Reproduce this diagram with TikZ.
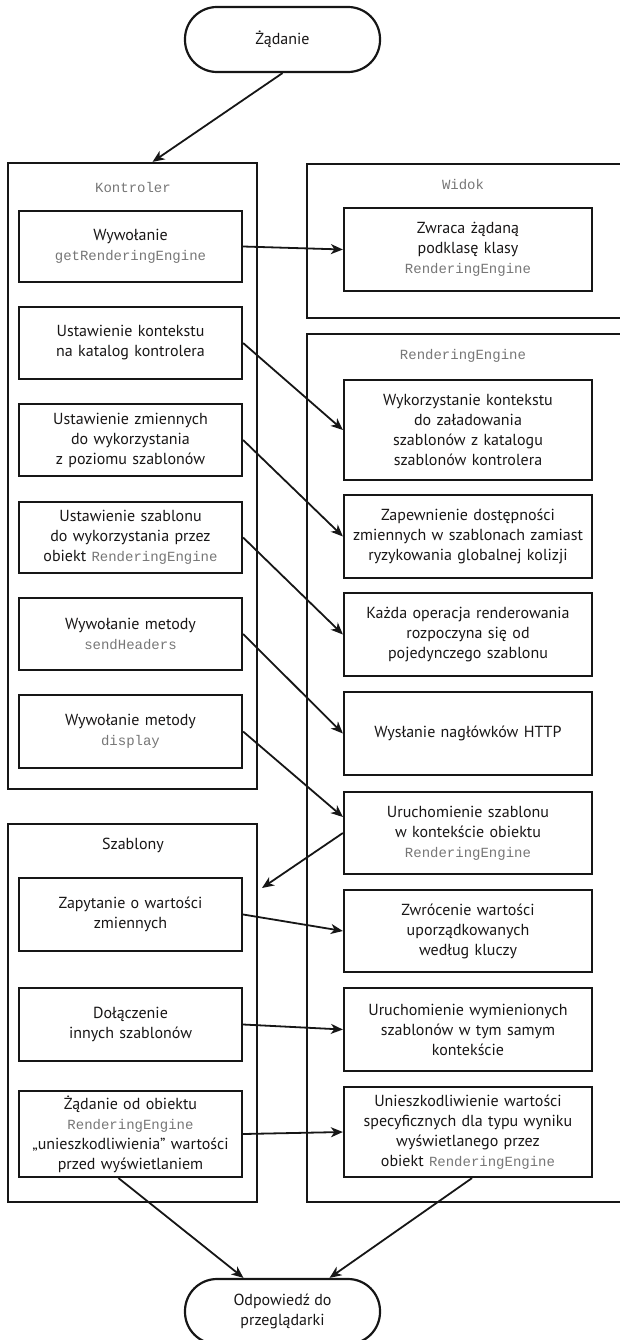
\documentclass[tikz,border=0pt]{standalone}
\usepackage{fontspec}
\setmainfont{PT Sans}
\setmonofont{Liberation Mono}
\usepackage{xcolor}
\usepackage{tikz}
\usetikzlibrary{arrows.meta,positioning}
\definecolor{flowInk}{RGB}{22,22,22}
\definecolor{flowText}{RGB}{24,22,22}
\definecolor{codeGray}{RGB}{118,118,118}
\newcommand{\kodtxt}[1]{{\fontsize{14}{20}\selectfont\ttfamily\color{codeGray}#1}}

\begin{document}
\begin{tikzpicture}[x=1pt, y=-1pt,
  every node/.style={text=flowText, font=\fontsize{16}{20}\selectfont},
  outerbox/.style={draw=flowInk, line width=2.2pt, minimum width=249pt, inner sep=0pt},
  stepbox/.style={draw=flowInk, line width=2.2pt, inner sep=1pt, align=center},
  leftbox/.style={stepbox, text width=221pt, minimum width=223pt},
  rightbox/.style={stepbox, text width=246pt, minimum width=248pt},
  endoval/.style={draw=flowInk, line width=2.2pt, rounded corners=32pt,
    minimum width=195pt, minimum height=65pt, align=center},
  codelabel/.style={font=\fontsize{14}{20}\selectfont\ttfamily, text=codeGray},
  flowarrow/.style={draw=flowInk, line width=1.8pt,
    -{Stealth[length=12pt, width=10pt, inset=3.5pt]}}]
\clip (0,0) rectangle (620,1340);

% start and end
\node[endoval] (zadanie) at (282.5,39.5) {Żądanie};
\node[endoval] (odpowiedz) at (282.5,1311.5) {Odpowiedź do\\przeglądarki};

% group frames
\node[outerbox, minimum height=626pt] (kontroler) at (132.5,476) {};
\node[outerbox, minimum height=378pt] (szablony) at (132.5,1013) {};
\node[outerbox, minimum width=320pt, minimum height=154pt] (widok) at (467,241) {};
\node[outerbox, minimum width=320pt, minimum height=868pt] (rengine) at (467,768) {};
\node[codelabel] (kontrolerlbl) at (133,187) {Kontroler};
\node[codelabel] (widoklbl) at (463,185) {Widok};
\node[codelabel] (renginelbl) at (463,356) {RenderingEngine};
\node (szablonylbl) at (133,845) {Szablony};

% Kontroler
\node[leftbox, minimum height=71pt] (b1) at (130.5,246.5) {Wywołanie\\\kodtxt{getRenderingEngine}};
\node[leftbox, minimum height=72pt] (b2) at (130.5,343) {Ustawienie kontekstu\\na katalog kontrolera};
\node[leftbox, minimum height=72pt] (b3) at (130.5,440) {Ustawienie zmiennych\\do wykorzystania\\z poziomu szablonów};
\node[leftbox, minimum height=71pt] (b4) at (130.5,537.5) {Ustawienie szablonu\\do wykorzystania przez\\obiekt \kodtxt{RenderingEngine}};
\node[leftbox, minimum height=72pt] (b5) at (130.5,634) {Wywołanie metody\\\kodtxt{sendHeaders}};
\node[leftbox, minimum height=73pt] (b6) at (130.5,731.5) {Wywołanie metody\\\kodtxt{display}};

% Szablony
\node[leftbox, minimum height=73pt] (b7) at (130.5,914.5) {Zapytanie o wartości\\zmiennych};
\node[leftbox, minimum height=73pt] (b8) at (130.5,1024.5) {Dołączenie\\innych szablonów};
\node[leftbox, minimum height=86pt] (b9) at (130.5,1134) {Żądanie od obiektu\\\kodtxt{RenderingEngine}\\„unieszkodliwienia” wartości\\przed wyświetlaniem};

% Widok, RenderingEngine
\node[rightbox, minimum height=83pt] (w1) at (468,249.5) {Zwraca żądaną\\podklasę klasy\\\kodtxt{RenderingEngine}};
\node[rightbox, minimum height=100pt] (r1) at (468,430) {Wykorzystanie kontekstu\\do załadowania\\szablonów z katalogu\\szablonów kontrolera};
\node[rightbox, minimum height=83pt] (r2) at (468,536.5) {Zapewnienie dostępności\\zmiennych w szablonach zamiast\\ryzykowania globalnej kolizji};
\node[rightbox, minimum height=83pt] (r3) at (468,634.5) {Każda operacja renderowania\\rozpoczyna się od\\pojedynczego szablonu};
\node[rightbox, minimum height=83pt] (r4) at (468,733.5) {Wysłanie nagłówków HTTP};
\node[rightbox, minimum height=82pt] (r5) at (468,833) {Uruchomienie szablonu\\w kontekście obiektu\\\kodtxt{RenderingEngine}};
\node[rightbox, minimum height=82pt] (r6) at (468,931) {Zwrócenie wartości\\uporządkowanych\\według kluczy};
\node[rightbox, minimum height=83pt] (r7) at (468,1029.5) {Uruchomienie wymienionych\\szablonów w tym samym\\kontekście};
\node[rightbox, minimum height=90pt] (r8) at (468,1132) {Unieszkodliwienie wartości\\specyficznych dla typu wyniku\\wyświetlanego przez\\obiekt \kodtxt{RenderingEngine}};

\coordinate (szabtip) at (262,888);

% connectors
\draw[flowarrow] (zadanie.south) -- ([xshift=20pt]kontroler.north);
\draw[flowarrow] (b1.east) -- (w1.west);
\draw[flowarrow] (b2.east) -- (r1.west);
\draw[flowarrow] (b3.east) -- (r2.west);
\draw[flowarrow] (b4.east) -- (r3.west);
\draw[flowarrow] (b5.east) -- (r4.west);
\draw[flowarrow] (b6.east) -- ([yshift=16pt]r5.west);
\draw[flowarrow] (r5.west) -- (szabtip);
\draw[flowarrow] (b7.east) -- (r6.west);
\draw[flowarrow] (b8.east) -- (r7.west);
\draw[flowarrow] (b9.east) -- (r8.west);
\draw[flowarrow] ([xshift=-12pt]b9.south) -- ([xshift=-39pt]odpowiedz.north);
\draw[flowarrow] ([xshift=4pt]r8.south) -- ([xshift=47pt]odpowiedz.north);
\end{tikzpicture}
\end{document}
